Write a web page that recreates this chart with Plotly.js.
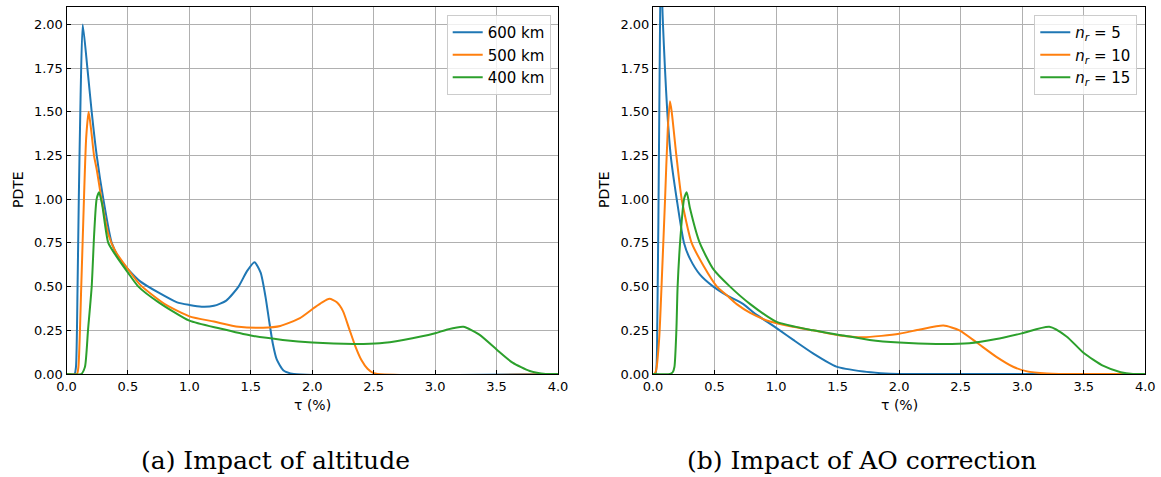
<!DOCTYPE html>
<html>
<head>
<meta charset="utf-8">
<script src="https://cdn.plot.ly/plotly-3.0.1.min.js"></script>
<style>html,body{margin:0;padding:0;background:#fff;}#chart{width:1161px;height:477px;}</style>
</head>
<body>
<div id="chart"></div>
<script>
// ---- Panel (a): impact of altitude ----
const altNames = ["600 km", "500 km", "400 km"];
const a600x = [0, 0.065, 0.077, 0.09, 0.10, 0.115, 0.132, 0.17, 0.205, 0.246, 0.30, 0.368, 0.43, 0.5, 0.6, 0.75, 0.9, 1.0, 1.1, 1.2, 1.3, 1.4, 1.47, 1.53, 1.58, 1.62, 1.65, 1.68, 1.71, 1.766, 1.85, 4.0];
const a600y = [0, 0, 0.04, 0.5, 1.0, 1.6, 2.0, 1.75, 1.5, 1.25, 1.0, 0.75, 0.66, 0.6, 0.53, 0.465, 0.41, 0.395, 0.385, 0.39, 0.42, 0.5, 0.59, 0.64, 0.58, 0.44, 0.3, 0.17, 0.085, 0.02, 0, 0];
const a500x = [0, 0.085, 0.097, 0.12, 0.142, 0.16, 0.18, 0.2, 0.224, 0.246, 0.285, 0.34, 0.4, 0.5, 0.6, 0.8, 1.0, 1.2, 1.4, 1.6, 1.74, 1.9, 2.01, 2.08, 2.14, 2.2, 2.25, 2.3, 2.35, 2.4, 2.45, 2.5, 4.0];
const a500y = [0, 0, 0.04, 0.5, 1.0, 1.35, 1.5, 1.4, 1.25, 1.17, 1.0, 0.8, 0.7, 0.6, 0.51, 0.4, 0.33, 0.3, 0.27, 0.265, 0.275, 0.32, 0.376, 0.41, 0.43, 0.41, 0.36, 0.26, 0.16, 0.08, 0.03, 0.005, 0];
const a400x = [0, 0.12, 0.15, 0.175, 0.205, 0.225, 0.245, 0.265, 0.29, 0.34, 0.4, 0.5, 0.585, 0.75, 1.0, 1.25, 1.5, 1.76, 2.0, 2.34, 2.55, 2.74, 3.0, 3.1, 3.23, 3.36, 3.5, 3.63, 3.77, 3.9, 4.0];
const a400y = [0, 0, 0.04, 0.25, 0.5, 0.8, 1.0, 1.04, 0.97, 0.75, 0.68, 0.58, 0.5, 0.41, 0.305, 0.26, 0.22, 0.195, 0.18, 0.172, 0.176, 0.195, 0.233, 0.255, 0.27, 0.225, 0.14, 0.065, 0.017, 0, 0];

// ---- Panel (b): impact of AO correction ----
const aoNames = ["<i>n</i><sub><i>r</i></sub> = 5", "<i>n</i><sub><i>r</i></sub> = 10", "<i>n</i><sub><i>r</i></sub> = 15"];
const b5x = [0, 0.02, 0.035, 0.05, 0.065, 0.076, 0.081, 0.097, 0.116, 0.144, 0.193, 0.252, 0.3, 0.38, 0.49, 0.6, 0.734, 0.82, 0.925, 1.03, 1.14, 1.3, 1.49, 1.71, 1.85, 2.0, 4.0];
const b5y = [0, 0, 0.3, 1.4, 2.5, 2.1, 2.0, 1.75, 1.5, 1.25, 1.0, 0.75, 0.66, 0.57, 0.5, 0.45, 0.4, 0.35, 0.3, 0.25, 0.195, 0.118, 0.042, 0.014, 0.005, 0, 0];
const b10x = [0, 0.01, 0.025, 0.05, 0.075, 0.098, 0.12, 0.138, 0.152, 0.19, 0.233, 0.314, 0.41, 0.52, 0.6, 0.68, 0.79, 0.95, 1.14, 1.3, 1.52, 1.71, 2.0, 2.17, 2.36, 2.49, 2.63, 2.79, 2.93, 3.04, 3.2, 3.3, 4.0];
const b10y = [0, 0, 0.02, 0.2, 0.6, 1.0, 1.4, 1.56, 1.5, 1.25, 1.0, 0.75, 0.62, 0.5, 0.45, 0.4, 0.35, 0.3, 0.27, 0.25, 0.22, 0.21, 0.23, 0.255, 0.277, 0.25, 0.18, 0.098, 0.04, 0.015, 0.003, 0, 0];
const b15x = [0, 0.138, 0.16, 0.174, 0.19, 0.2, 0.225, 0.252, 0.274, 0.3, 0.38, 0.49, 0.626, 0.79, 1.0, 1.3, 1.55, 1.76, 2.0, 2.3, 2.57, 2.79, 3.0, 3.22, 3.36, 3.5, 3.66, 3.8, 3.9, 4.0];
const b15y = [0, 0, 0.01, 0.04, 0.25, 0.5, 0.8, 1.0, 1.04, 0.95, 0.75, 0.6, 0.5, 0.4, 0.3, 0.25, 0.22, 0.195, 0.18, 0.172, 0.176, 0.2, 0.233, 0.27, 0.215, 0.12, 0.046, 0.01, 0, 0];

const colors = ["#1f77b4", "#ff7f0e", "#2ca02c"];
const xTicks = [0, 0.5, 1.0, 1.5, 2.0, 2.5, 3.0, 3.5, 4.0];
const yTicks = [0, 0.25, 0.5, 0.75, 1.0, 1.25, 1.5, 1.75, 2.0];

function tr(x, y, name, i, xa, ya, leg) {
  return {x: x, y: y, name: name, type: "scatter", mode: "lines",
    xaxis: xa, yaxis: ya, legend: leg,
    line: {color: colors[i], width: 2, shape: "spline", smoothing: 0.6}};
}
const data = [
  tr(a600x, a600y, altNames[0], 0, "x", "y", "legend"),
  tr(a500x, a500y, altNames[1], 1, "x", "y", "legend"),
  tr(a400x, a400y, altNames[2], 2, "x", "y", "legend"),
  tr(b5x, b5y, aoNames[0], 0, "x2", "y2", "legend2"),
  tr(b10x, b10y, aoNames[1], 1, "x2", "y2", "legend2"),
  tr(b15x, b15y, aoNames[2], 2, "x2", "y2", "legend2")
];

const W = 1161, H = 477;
const font = "DejaVu Sans, sans-serif";
function xax(d) {
  return {domain: d, range: [0, 4], tickvals: xTicks, tickformat: ".1f",
    ticks: "inside", ticklen: 4, tickcolor: "#000", showline: true, linecolor: "#000", linewidth: 1,
    mirror: true, showgrid: true, gridcolor: "#b0b0b0", gridwidth: 1, zeroline: false,
    tickfont: {family: font, size: 13, color: "#000"}, fixedrange: true};
}
function yax(anchor) {
  return {domain: [1 - 374 / H, 1 - 7 / H], range: [0, 2.1], tickvals: yTicks, tickformat: ".2f", anchor: anchor,
    ticks: "inside", ticklen: 4, tickcolor: "#000", showline: true, linecolor: "#000", linewidth: 1,
    mirror: true, showgrid: true, gridcolor: "#b0b0b0", gridwidth: 1, zeroline: false,
    tickfont: {family: font, size: 13, color: "#000"}, fixedrange: true};
}
function ann(text, px, py, size, fam, angle) {
  return {text: text, xref: "paper", yref: "paper", x: px / W, y: 1 - py / H,
    xanchor: "center", yanchor: "middle", showarrow: false, textangle: angle || 0,
    font: {family: fam, size: size, color: "#000"}};
}
const legendStyle = {bgcolor: "rgba(255,255,255,0.8)", bordercolor: "#cccccc", borderwidth: 1,
  font: {family: font, size: 15, color: "#000"}, xanchor: "right", yanchor: "top", tracegroupgap: 0};

const layout = {
  width: W, height: H, margin: {l: 0, r: 0, t: 0, b: 0},
  paper_bgcolor: "#fff", plot_bgcolor: "#fff", showlegend: true,
  xaxis: Object.assign(xax([66.5 / W, 558 / W]), {anchor: "y"}),
  yaxis: yax("x"),
  xaxis2: Object.assign(xax([653 / W, 1145.3 / W]), {anchor: "y2"}),
  yaxis2: yax("x2"),
  legend: Object.assign({x: 550.7 / W, y: 1 - 15 / H}, legendStyle),
  legend2: Object.assign({x: 1137.3 / W, y: 1 - 15 / H}, legendStyle),
  annotations: [
    ann("PDTE", 18, 190, 14, font, -90),
    ann("τ (%)", 312, 405, 14, font),
    ann("PDTE", 604, 190, 14, font, -90),
    ann("τ (%)", 899, 405, 14, font),
    ann("(a) Impact of altitude", 275, 460, 25, "DejaVu Serif, serif"),
    ann("(b) Impact of AO correction", 862, 460, 25, "DejaVu Serif, serif")
  ]
};
Plotly.newPlot("chart", data, layout, {displayModeBar: false, staticPlot: true});
</script>
</body>
</html>
